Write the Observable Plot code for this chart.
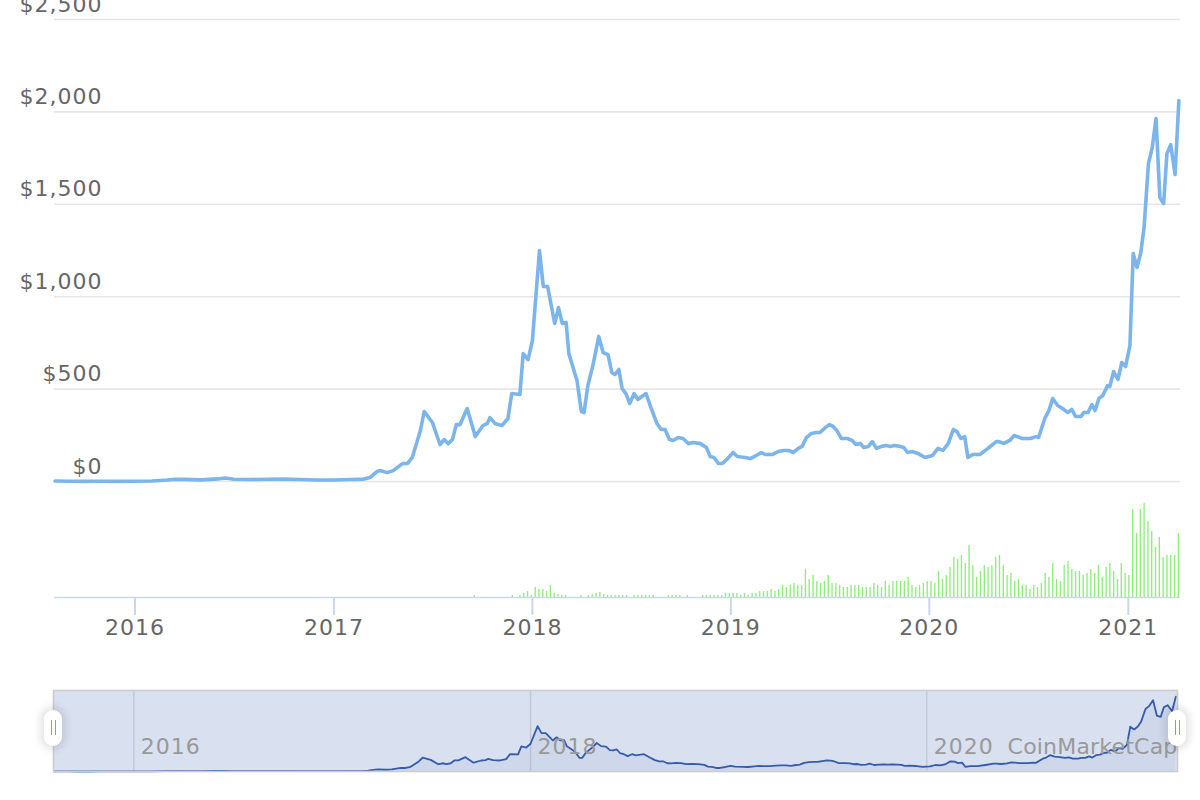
<!DOCTYPE html>
<html><head><meta charset="utf-8">
<script src="https://cdn.jsdelivr.net/npm/d3@7"></script>
<script src="https://cdn.jsdelivr.net/npm/@observablehq/plot@0.6"></script>
<style>
body{margin:0;background:#fff;font-family:"DejaVu Sans",sans-serif;}
#wrap{position:relative;width:1200px;height:800px;overflow:hidden;background:#fff;}
#wrap svg{position:absolute;left:0;overflow:visible;background:transparent;}
#wrap svg text{letter-spacing:1px;}
#wrap svg .wm text{letter-spacing:0.2px;}
.handle{position:absolute;width:18px;height:36px;background:#fff;border-radius:9px;box-shadow:0 0 7px 4px rgba(0,0,0,0.10);}
.handle::before,.handle::after{content:"";position:absolute;top:10px;width:1.5px;height:15px;background:#8e99b5;}
.handle::before{left:6.5px}.handle::after{left:10.5px}
</style></head><body><div id="wrap"></div>
<script>
// ---- Data ----
const priceDates = ["2015-08-07","2015-09-01","2015-10-01","2015-11-01","2015-12-01","2016-01-01","2016-02-01","2016-03-01","2016-03-15","2016-04-01","2016-05-01","2016-06-01","2016-06-15","2016-07-01","2016-08-01","2016-09-01","2016-10-01","2016-11-01","2016-12-01","2017-01-01","2017-02-01","2017-02-25","2017-03-08","2017-03-21","2017-03-27","2017-04-09","2017-04-20","2017-05-07","2017-05-16","2017-05-25","2017-06-09","2017-06-16","2017-07-01","2017-07-15","2017-07-23","2017-07-30","2017-08-07","2017-08-14","2017-08-21","2017-09-03","2017-09-18","2017-10-02","2017-10-10","2017-10-15","2017-10-24","2017-11-06","2017-11-17","2017-11-24","2017-12-09","2017-12-15","2017-12-24","2018-01-01","2018-01-14","2018-01-21","2018-01-29","2018-02-11","2018-02-18","2018-02-25","2018-03-04","2018-03-09","2018-03-24","2018-04-01","2018-04-06","2018-04-13","2018-04-23","2018-05-03","2018-05-11","2018-05-20","2018-05-27","2018-06-02","2018-06-09","2018-06-15","2018-06-22","2018-06-29","2018-07-07","2018-07-14","2018-07-29","2018-08-07","2018-08-18","2018-08-26","2018-09-02","2018-09-10","2018-09-17","2018-09-26","2018-10-05","2018-10-15","2018-10-24","2018-11-06","2018-11-17","2018-11-24","2018-12-01","2018-12-09","2018-12-16","2018-12-26","2019-01-05","2019-01-13","2019-01-27","2019-02-06","2019-02-17","2019-02-26","2019-03-05","2019-03-18","2019-03-29","2019-04-08","2019-04-17","2019-04-26","2019-05-05","2019-05-12","2019-05-20","2019-05-29","2019-06-07","2019-06-14","2019-06-22","2019-07-01","2019-07-08","2019-07-15","2019-07-23","2019-08-03","2019-08-12","2019-08-19","2019-08-27","2019-09-02","2019-09-11","2019-09-18","2019-09-26","2019-10-05","2019-10-14","2019-10-21","2019-10-29","2019-11-08","2019-11-15","2019-11-22","2019-11-30","2019-12-11","2019-12-24","2020-01-07","2020-01-17","2020-01-26","2020-02-05","2020-02-14","2020-02-21","2020-02-28","2020-03-06","2020-03-12","2020-03-21","2020-04-03","2020-04-18","2020-05-03","2020-05-08","2020-05-17","2020-05-28","2020-06-05","2020-06-20","2020-07-05","2020-07-15","2020-07-20","2020-08-01","2020-08-08","2020-08-15","2020-08-24","2020-09-02","2020-09-12","2020-09-19","2020-09-26","2020-10-06","2020-10-11","2020-10-19","2020-10-26","2020-11-01","2020-11-08","2020-11-15","2020-11-24","2020-11-28","2020-12-05","2020-12-13","2020-12-20","2020-12-27","2021-01-04","2021-01-10","2021-01-17","2021-01-24","2021-01-30","2021-02-07","2021-02-14","2021-02-21","2021-02-28","2021-03-07","2021-03-13","2021-03-20","2021-03-28","2021-04-04"];
const priceValues = [2.8,1.3,0.7,1.0,0.9,0.95,2.5,8,12.5,11.5,9,14,19,12,11,12,13,11,8,8,10.5,13,21,54,59,48,59,97,97,130,276,379,320,200,227,205,227,308,308,395,243,303,314,346,314,303,341,476,471,692,660,763,1250,1055,1055,855,941,855,860,692,546,379,373,519,638,785,698,687,590,579,606,503,476,422,476,444,476,400,314,281,281,227,222,238,233,205,211,205,184,135,130,97,97,124,157,135,130,124,141,157,146,146,162,168,168,157,179,190,238,260,265,265,287,308,298,276,233,233,222,200,206,184,190,216,179,190,195,190,195,190,184,157,162,152,130,141,179,168,206,281,270,233,243,130,146,146,179,216,216,206,222,249,233,233,243,238,346,384,449,411,395,373,390,352,352,373,373,416,384,449,465,519,514,595,552,644,622,736,1234,1158,1239,1374,1720,1807,1964,1536,1504,1774,1823,1661,2061];

// weekly volume (USD billions), first week starting 2017-09-03
const volumeStart = "2017-09-03";
const volumeValues = [
 0,0,1,0,0,0,0,0,0,0,0,0,
 1,0,1,2,3,1,5,4,4,3,6,2,
 1.5,1,1,0,0,0,1,0,1,1.5,2,2.5,
 1.5,1,1,1,1,1,1,0,1,1,1,1,
 1,1,0,0,0,1,1,1,1,0,1,0,
 0,0,1,1,1,1,1,1,2,2,2,2,
 1,2,1,2,2,3,3,3,4,3,4,6,
 5,6,7,6,6,14,9,11,8,7,8,11,
 7,7,6,5,5,6,6,6,5,5,5,7,
 6,5,8,6,8,8,8,8,10,6,5,6,
 7,8,8,7,13,9,11,15,20,19,21,17,
 26,16,10,13,16,15,16,20,21,16,11,12,
 8,9,6,6,4,6,5,7,12,10,17,9,
 8,16,18,14,13,13,11,12,14,12,16,10,
 15,17,13,9,17,12,11,44,32,44,47,38,
 33,25,30,20,21,21,21,32];

const yTicks = [0, 500, 1000, 1500, 2000, 2500];
const xTickYears = [2016, 2017, 2018, 2019, 2020, 2021];
const navTickYears = [2016, 2018, 2020];
const watermark = "CoinMarketCap";
const xDomainDates = ["2015-08-06", "2021-04-07"];

// ---- Build tables ----
const priceData = priceDates.map((d, i) => ({date: new Date(d), price: priceValues[i]}));
const vStart = new Date(volumeStart);
const volData = volumeValues.map((v, i) => ({date: d3.utcDay.offset(vStart, 7 * i), vol: v}));
const xDomain = xDomainDates.map(d => new Date(d));
const yearDate = y => new Date(Date.UTC(y, 0, 1));

const wrap = document.getElementById("wrap");
function place(svg, top) { svg.style.top = top + "px"; wrap.appendChild(svg); }

// ---- Price chart ----
const price = Plot.plot({
  width: 1200, height: 490,
  marginLeft: 54, marginRight: 20, marginTop: 19, marginBottom: 9,
  style: {background: "transparent", fontFamily: "DejaVu Sans, sans-serif"},
  x: {type: "utc", domain: xDomain, axis: null},
  y: {domain: [0, 2500], axis: null},
  marks: [
    Plot.ruleY(yTicks, {stroke: "#e6e6e6", strokeWidth: 1.6}),
    Plot.line(priceData, {x: "date", y: "price", stroke: "#7cb5ec", strokeWidth: 3.6, strokeLinejoin: "round", strokeLinecap: "round"}),
    Plot.text(yTicks, {y: d => d, text: d => "$" + d3.format(",")(d), frameAnchor: "left", textAnchor: "end", dx: 48, dy: -15, fill: "#666", fontSize: 22})
  ]
});
place(price, 0);

// ---- Volume chart + x axis ----
const vol = Plot.plot({
  width: 1200, height: 175,
  marginLeft: 54, marginRight: 20, marginTop: 20, marginBottom: 58,
  style: {background: "transparent", fontFamily: "DejaVu Sans, sans-serif"},
  x: {type: "utc", domain: xDomain},
  y: {domain: [0, 48.5], axis: null},
  marks: [
    Plot.rectY(volData, {x1: d => d3.utcHour.offset(d.date, -30), x2: d => d3.utcHour.offset(d.date, 30), y: "vol", fill: "#90ed7d"}),
    Plot.ruleY([0], {stroke: "#ccd6eb", strokeWidth: 1.6}),
    Plot.axisX({ticks: xTickYears.map(yearDate), tickFormat: "%Y", tickSize: 18, tickPadding: 4, stroke: "#ccd6eb", strokeWidth: 2, fill: "#666", fontSize: 22, label: null})
  ]
});
place(vol, 480);

// ---- Navigator ----
const navTicks = navTickYears.map(yearDate);
const nav = Plot.plot({
  width: 1200, height: 100,
  marginLeft: 53, marginRight: 23, marginTop: 10, marginBottom: 9,
  style: {background: "transparent", fontFamily: "DejaVu Sans, sans-serif"},
  x: {type: "utc", domain: xDomain, axis: null},
  y: {domain: [0, 2230], axis: null},
  marks: [
    Plot.frame({fill: "#d9e0f0", stroke: "none"}),
    Plot.ruleX(navTicks, {stroke: "#c3c9d6", strokeWidth: 1.5}),
    Plot.areaY(priceData, {x: "date", y: "price", fill: "#335cad", fillOpacity: 0.06}),
    Plot.lineY(priceData, {x: "date", y: "price", stroke: "#335cad", strokeWidth: 1.8}),
    Plot.text(navTicks, {x: d => d, text: d => d3.utcFormat("%Y")(d), frameAnchor: "bottom", textAnchor: "start", dx: 7, dy: -18, fill: "#999", fontSize: 22}),
    Plot.text([watermark], {text: d => d, frameAnchor: "bottom-right", textAnchor: "end", dx: 0, dy: -18, fill: "#999", fontSize: 22, className: "wm"}),
    Plot.frame({stroke: "#cccccc", strokeWidth: 1.6})
  ]
});
place(nav, 680);

// navigator handles (UI chrome)
[[44, 710], [1168, 710]].forEach(([l, t]) => {
  const h = document.createElement("div");
  h.className = "handle"; h.style.left = l + "px"; h.style.top = t + "px";
  wrap.appendChild(h);
});
</script></body></html>
